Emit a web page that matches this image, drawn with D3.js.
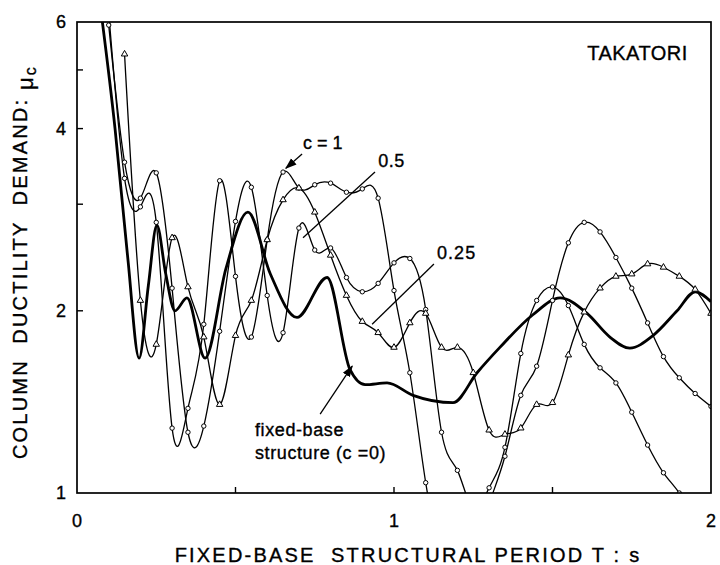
<!DOCTYPE html>
<meta charset="utf-8">
<script src="https://d3js.org/d3.v7.min.js"></script>
<style>
  body { margin: 0; background: #fff; }
  text { font-family: "Liberation Sans", Arial, Helvetica, sans-serif; fill: #000; stroke: #000; stroke-width: 0.35px; }
</style>
<div id="chart"></div>
<script>
// periods where the spectra with foundation flexibility were sampled (markers)
var periods = [0.10,0.15,0.20,0.25,0.30,0.35,0.40,0.45,0.50,0.55,0.60,0.65,0.70,0.75,0.80,0.85,0.90,0.95,
               1.00,1.05,1.10,1.15,1.20,1.25,1.30,1.35,1.40,1.45,1.50,1.55,1.60,1.65,1.70,1.75,1.80,1.85,1.90,1.95,2.00];

// column ductility demand, c = 1
var muC1 = [6.23,3.31,2.97,2.80,1.28,1.38,1.90,3.28,2.28,1.81,2.62,3.39,3.19,3.23,3.25,3.14,3.18,3.07,
            2.16,1.58,1.04,0.78,0.67,0.78,0.96,1.15,1.45,1.62,2.08,2.59,2.80,2.70,2.45,2.18,1.91,1.68,1.55,1.46,1.39];
// c = 0.5
var muC05 = [5.93,3.52,3.07,3.38,2.18,1.26,1.29,1.85,2.81,3.20,2.12,1.84,2.74,2.52,2.54,2.27,2.15,2.22,
             2.40,2.44,2.01,1.26,1.09,0.94,1.02,1.19,1.70,2.08,2.19,2.04,1.76,1.61,1.52,1.36,1.20,1.08,1.00,0.90,0.80];
// c = 0.25 (starts at T = 0.15)
var muC025 = [null,5.31,2.08,1.76,2.64,2.19,1.81,1.40,1.82,2.08,2.62,3.05,3.19,2.91,2.47,2.12,1.92,1.84,
              1.74,1.91,1.98,1.74,1.74,1.58,1.27,1.25,1.28,1.40,1.41,1.69,1.99,2.18,2.28,2.30,2.39,2.36,2.28,2.17,1.98];

// fixed-base structure (c = 0)
var fbT  = [0.07,0.12,0.16,0.196,0.225,0.252,0.28,0.309,0.347,0.404,0.47,0.539,0.61,0.694,0.789,0.861,0.909,
            0.978,1.06,1.186,1.262,1.334,1.438,1.524,1.609,1.681,1.744,1.817,1.893,1.95,2.0];
var fbMu = [6.6,4.0,2.45,1.67,2.2,2.77,2.3,2.0,2.1,1.67,2.35,2.91,2.3,1.95,2.27,1.60,1.51,
            1.52,1.45,1.41,1.58,1.74,1.97,2.10,1.98,1.81,1.735,1.82,2.0,2.15,2.07];

var xTicks = [0,1,2];
var xMinor = [0.5,1,1.5];
var yTicks = [1,2,4,6];
var yMinor = [2,3,4,5];

var W = 720, H = 565;
var margin = {top: 22, right: 9, bottom: 72, left: 77};

var svg = d3.select("#chart").append("svg")
    .attr("width", W)
    .attr("height", H);

var x = d3.scaleLinear().domain([0, 2]).range([margin.left, W - margin.right]);
var y = d3.scaleLog().domain([1, 6]).range([H - margin.bottom, margin.top]);

svg.append("defs").append("clipPath").attr("id", "clip")
  .append("rect")
    .attr("x", x(0)).attr("y", y(6))
    .attr("width", x(2) - x(0)).attr("height", y(1) - y(6));

svg.append("defs").append("marker")
    .attr("id", "arrow")
    .attr("viewBox", "0 0 10 10")
    .attr("refX", 9).attr("refY", 5)
    .attr("markerWidth", 9).attr("markerHeight", 9)
    .attr("orient", "auto")
  .append("path")
    .attr("d", "M0,1.5L10,5L0,8.5z")
    .attr("fill", "#000");

// curves
var plot = svg.append("g").attr("clip-path", "url(#clip)");

function series(mu) {
  return periods.map(function(t, i) { return {t: t, mu: mu[i]}; })
    .filter(function(d) { return d.mu != null; });
}

var line = d3.line()
    .x(function(d) { return x(d.t); })
    .y(function(d) { return y(d.mu); })
    .curve(d3.curveNatural);

var sets = [
  {data: series(muC1), shape: "circle"},
  {data: series(muC05), shape: "circle"},
  {data: series(muC025), shape: "triangle"}
];

sets.forEach(function(s) {
  plot.append("path")
      .datum(s.data)
      .attr("d", line)
      .attr("fill", "none")
      .attr("stroke", "#000")
      .attr("stroke-width", 1.3);
});

var fbLine = d3.line()
    .x(function(d) { return x(d[0]); })
    .y(function(d) { return y(d[1]); })
    .curve(d3.curveMonotoneX);

plot.append("path")
    .datum(d3.zip(fbT, fbMu))
    .attr("d", fbLine)
    .attr("fill", "none")
    .attr("stroke", "#000")
    .attr("stroke-width", 2.8);

sets.forEach(function(s) {
  var pts = s.data.filter(function(d) { return d.mu >= 1 && d.mu <= 6.05; });
  if (s.shape == "circle") {
    plot.selectAll(null).data(pts).enter().append("circle")
        .attr("cx", function(d) { return x(d.t); })
        .attr("cy", function(d) { return y(d.mu); })
        .attr("r", 2.2)
        .attr("fill", "#fff")
        .attr("stroke", "#000")
        .attr("stroke-width", 1);
  } else {
    plot.selectAll(null).data(pts).enter().append("path")
        .attr("d", d3.symbol().type(d3.symbolTriangle).size(18))
        .attr("transform", function(d) { return "translate(" + x(d.t) + "," + y(d.mu) + ")"; })
        .attr("fill", "#fff")
        .attr("stroke", "#000")
        .attr("stroke-width", 1);
  }
});

// frame
svg.append("rect")
    .attr("x", x(0)).attr("y", y(6))
    .attr("width", x(2) - x(0)).attr("height", y(1) - y(6))
    .attr("fill", "none")
    .attr("stroke", "#000")
    .attr("stroke-width", 1.7);

// inward ticks
svg.selectAll(".yt").data(yMinor).enter().append("line")
    .attr("x1", x(0)).attr("x2", x(0) + 6)
    .attr("y1", function(d) { return y(d); }).attr("y2", function(d) { return y(d); })
    .attr("stroke", "#000").attr("stroke-width", 1.4);
svg.selectAll(".xt").data(xMinor).enter().append("line")
    .attr("x1", function(d) { return x(d); }).attr("x2", function(d) { return x(d); })
    .attr("y1", y(1)).attr("y2", y(1) - 6)
    .attr("stroke", "#000").attr("stroke-width", 1.4);

// tick labels
svg.selectAll(".yl").data(yTicks).enter().append("text")
    .attr("x", x(0) - 11)
    .attr("y", function(d) { return y(d); })
    .attr("dy", "0.36em")
    .attr("text-anchor", "end")
    .style("font-size", "18px")
    .text(function(d) { return d; });
svg.selectAll(".xl").data(xTicks).enter().append("text")
    .attr("x", function(d) { return x(d); })
    .attr("y", y(1) + 34)
    .attr("text-anchor", "middle")
    .style("font-size", "18px")
    .text(function(d) { return d; });

// axis titles
svg.append("text")
    .attr("x", 408).attr("y", 562)
    .attr("text-anchor", "middle")
    .style("font-size", "20px")
    .style("letter-spacing", "2.2px")
    .attr("xml:space", "preserve")
    .text("FIXED-BASE  STRUCTURAL PERIOD T : s");

var yt = svg.append("text")
    .attr("transform", "translate(27,262) rotate(-90)")
    .attr("text-anchor", "middle")
    .style("font-size", "20px")
    .style("letter-spacing", "2.2px")
    .attr("xml:space", "preserve");
yt.append("tspan").text("COLUMN  DUCTILITY  DEMAND: ");
yt.append("tspan").attr("dy", 6).style("font-size", "22px").text("\u03bc");
yt.append("tspan").attr("dy", 3).style("font-size", "16px").text("c");

// annotations
svg.append("text")
    .attr("x", x(1.927)).attr("y", y(5.19))
    .attr("text-anchor", "end")
    .style("font-size", "20px")
    .style("letter-spacing", "0.5px")
    .text("TAKATORI");

svg.append("text").attr("x", x(0.713)).attr("y", y(3.7))
    .style("font-size", "18px").attr("xml:space", "preserve").text("c = 1");
svg.append("line")
    .attr("x1", x(0.71)).attr("y1", y(3.63)).attr("x2", x(0.659)).attr("y2", y(3.44))
    .attr("stroke", "#000").attr("stroke-width", 1.3).attr("marker-end", "url(#arrow)");

svg.append("text").attr("x", x(0.95)).attr("y", y(3.46))
    .style("font-size", "18px").style("letter-spacing", "0.5px").text("0.5");
svg.append("line")
    .attr("x1", x(0.94)).attr("y1", y(3.39)).attr("x2", x(0.713)).attr("y2", y(2.64))
    .attr("stroke", "#000").attr("stroke-width", 1.3);

svg.append("text").attr("x", x(1.136)).attr("y", y(2.44))
    .style("font-size", "18px").style("letter-spacing", "1px").text("0.25");
svg.append("line")
    .attr("x1", x(1.126)).attr("y1", y(2.39)).attr("x2", x(0.931)).attr("y2", y(1.90))
    .attr("stroke", "#000").attr("stroke-width", 1.3);

svg.append("text").attr("x", x(0.5615)).attr("y", y(1.24))
    .style("font-size", "18px").style("letter-spacing", "0.6px").text("fixed-base");
svg.append("text").attr("x", x(0.5615)).attr("y", y(1.14))
    .style("font-size", "18px").style("letter-spacing", "0.6px").attr("xml:space", "preserve").text("structure (c =0)");
svg.append("line")
    .attr("x1", x(0.767)).attr("y1", y(1.35)).attr("x2", x(0.868)).attr("y2", y(1.62))
    .attr("stroke", "#000").attr("stroke-width", 1.3).attr("marker-end", "url(#arrow)");
</script>
